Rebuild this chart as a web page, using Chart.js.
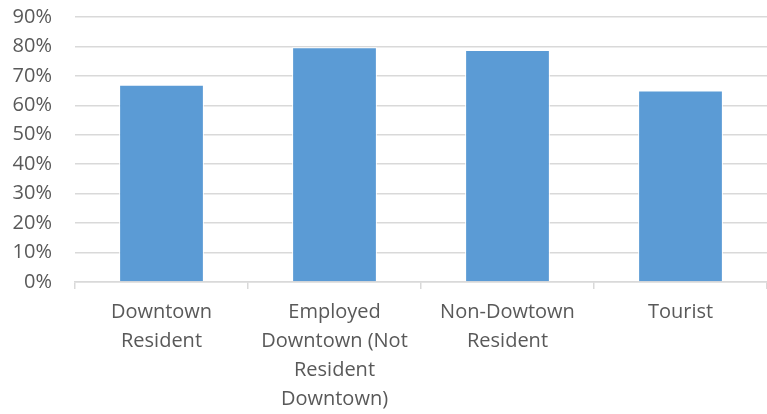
<!DOCTYPE html>
<html lang="en">
<head>
    <meta charset="UTF-8">
    <title>Share by visitor type</title>
    <script src="https://cdn.jsdelivr.net/npm/chart.js@4"></script>
    <style>
        html, body { margin: 0; padding: 0; background: #fff; }
        .chart-box { width: 767px; height: 414px; }
    </style>
</head>
<body>
    <div class="chart-box">
        <canvas id="barChart"></canvas>
    </div>

    <script>
        // categories (split into label lines as shown under the axis)
        const categories = [
            ['Downtown', 'Resident'],
            ['Employed', 'Downtown (Not', 'Resident', 'Downtown)'],
            ['Non-Dowtown', 'Resident'],
            ['Tourist']
        ];
        // share, in percent
        const shares = [67.0, 79.7, 78.8, 65.0];
        const yTicks = [0, 10, 20, 30, 40, 50, 60, 70, 80, 90];

        const textColor = '#595959';
        const gridColor = '#d9d9d9';

        const ctx = document.getElementById('barChart').getContext('2d');
        new Chart(ctx, {
            type: 'bar',
            data: {
                labels: categories,
                datasets: [{
                    data: shares,
                    backgroundColor: '#5b9bd5',
                    borderColor: '#ffffff',
                    borderWidth: 1,
                    categoryPercentage: 1,
                    barPercentage: 0.49
                }]
            },
            options: {
                responsive: true,
                maintainAspectRatio: false,
                animation: false,
                layout: { padding: { top: 0, right: 0, bottom: 0, left: 0 } },
                plugins: {
                    legend: { display: false },
                    tooltip: { enabled: false }
                },
                scales: {
                    x: {
                        offset: true,
                        afterFit: s => { s.height = 132; },
                        border: { color: gridColor, width: 1.5 },
                        grid: {
                            offset: true,
                            drawOnChartArea: false,
                            color: gridColor,
                            lineWidth: 1.5,
                            tickLength: 7
                        },
                        ticks: {
                            color: textColor,
                            font: { family: 'Open Sans', size: 20, lineHeight: 1.45 },
                            padding: 9,
                            maxRotation: 0,
                            autoSkip: false
                        }
                    },
                    y: {
                        min: 0,
                        max: 90,
                        afterFit: s => { s.width = 75; s.paddingTop = 17; s.paddingBottom = 0; },
                        afterBuildTicks: s => { s.ticks = yTicks.map(v => ({ value: v })); },
                        border: { display: false },
                        grid: {
                            color: gridColor,
                            lineWidth: 1.5,
                            drawTicks: false
                        },
                        ticks: {
                            color: textColor,
                            font: { family: 'Open Sans', size: 20, lineHeight: 1.2 },
                            padding: 23,
                            autoSkip: false,
                            callback: v => v + '%'
                        }
                    }
                }
            }
        });
    </script>
</body>
</html>
